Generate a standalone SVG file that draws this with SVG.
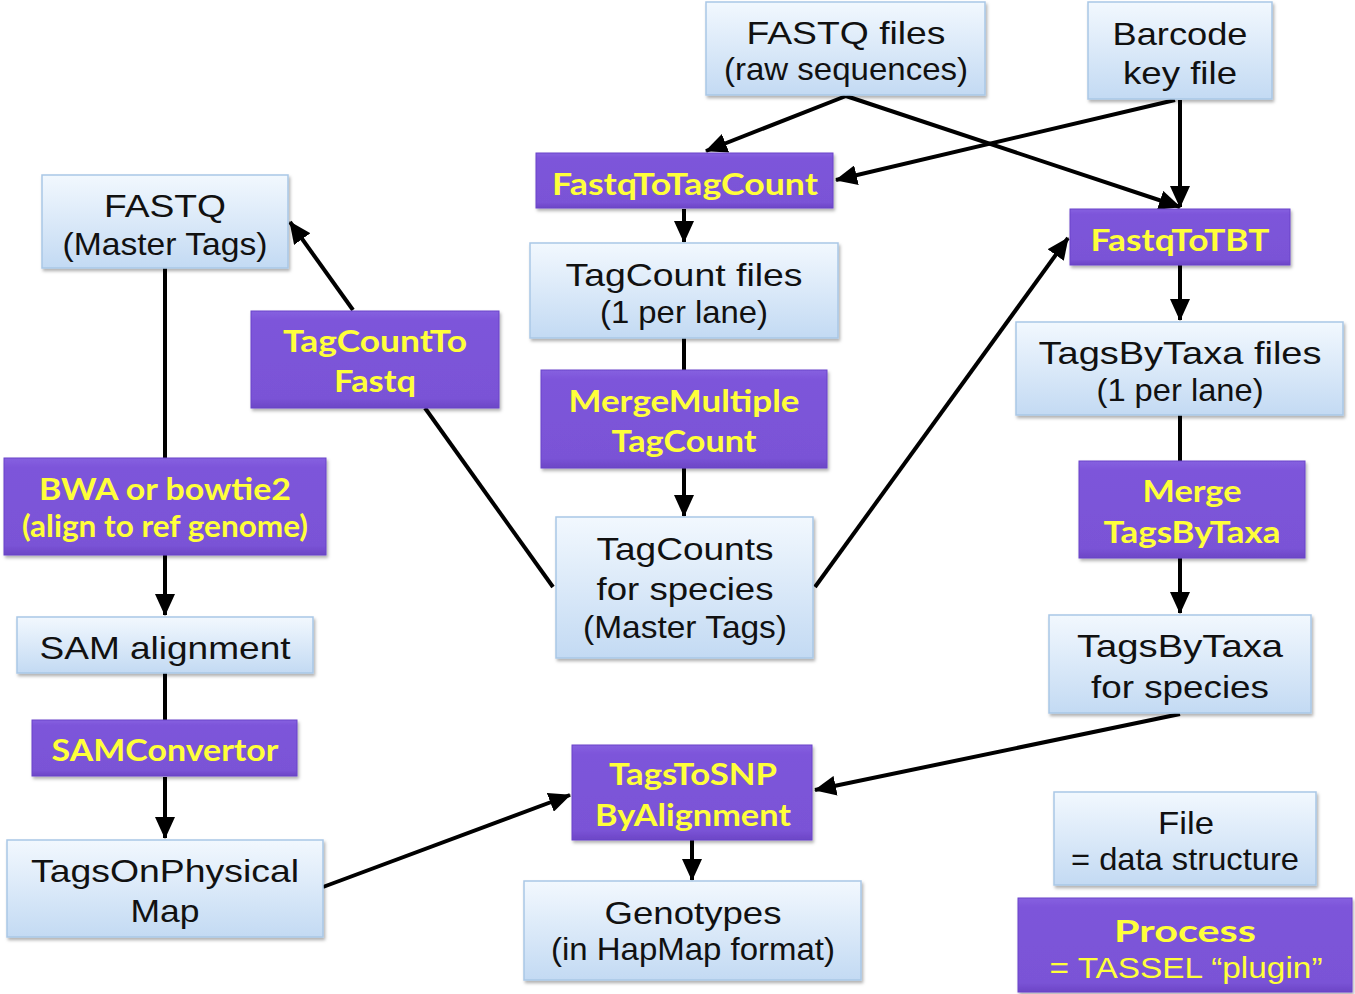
<svg xmlns="http://www.w3.org/2000/svg" width="1355" height="994" viewBox="0 0 1355 994">
<style>
.file rect{fill:url(#gFile);stroke:#a9c7e6;stroke-width:1.5;filter:url(#sh)}
.proc rect{fill:url(#gProc);stroke:#6a44c9;stroke-width:1;filter:url(#sh)}
.file text{font-family:"Liberation Sans",Arial,sans-serif;font-size:32px;fill:#111;text-anchor:middle}
.proc text{font-family:Lato,"Open Sans",sans-serif;font-weight:700;font-size:31px;fill:#ffff3a;text-anchor:middle}
.proc text.reg{font-family:"Liberation Sans",Arial,sans-serif;font-weight:400;font-size:30px}
#edges path{stroke:#000;stroke-width:4;fill:none}
#edges path.a{marker-end:url(#ah)}
</style>
<defs>
<linearGradient id="gFile" x1="0" y1="0" x2="0" y2="1">
<stop offset="0" stop-color="#f2f8fe"/><stop offset="1" stop-color="#c3daf3"/>
</linearGradient>
<linearGradient id="gProc" x1="0" y1="0" x2="0" y2="1">
<stop offset="0" stop-color="#8660e0"/><stop offset="0.1" stop-color="#7d55da"/><stop offset="0.9" stop-color="#7a53d6"/><stop offset="1" stop-color="#6c46c6"/>
</linearGradient>
<filter id="sh" x="-10%" y="-10%" width="125%" height="135%">
<feDropShadow dx="1.5" dy="2.5" stdDeviation="1.5" flood-color="#000" flood-opacity="0.3"/>
</filter>
<marker id="ah" markerUnits="userSpaceOnUse" markerWidth="22" markerHeight="20" viewBox="0 0 22 20" refX="21" refY="10" orient="auto">
<path d="M0,0 L22,10 L0,20 z" fill="#000"/>
</marker>
</defs>
<rect width="1355" height="994" fill="#fff"/>

<g id="edges">
<path class="a" d="M846,96 L706,151"/>
<path class="a" d="M846,96 L1180,207"/>
<path class="a" d="M1175,100 L836,180"/>
<path class="a" d="M1180,100 L1180,207"/>
<path class="a" d="M684,209 L684,242"/>
<path d="M684,338 L684,370"/>
<path class="a" d="M684,468 L684,516"/>
<path d="M553,587 L425,408"/>
<path class="a" d="M353,310 L290,222"/>
<path class="a" d="M815,587 L1068,238"/>
<path class="a" d="M1180,265 L1180,320"/>
<path d="M1180,415 L1180,461"/>
<path class="a" d="M1180,558 L1180,613"/>
<path class="a" d="M1180,714 L815,790"/>
<path d="M165,268 L165,458"/>
<path class="a" d="M165,555 L165,615"/>
<path d="M165,673 L165,720"/>
<path class="a" d="M165,777 L165,838"/>
<path class="a" d="M323,887 L570,795"/>
<path class="a" d="M692,840 L692,880"/>
</g>

<g id="fastq_files" class="file"><rect x="706" y="2" width="279" height="93"/>
<text x="846" y="44" textLength="199" lengthAdjust="spacingAndGlyphs">FASTQ files</text>
<text x="846" y="80" textLength="244" lengthAdjust="spacingAndGlyphs">(raw sequences)</text></g>

<g id="barcode" class="file"><rect x="1088" y="2" width="184" height="97"/>
<text x="1180" y="45" textLength="135" lengthAdjust="spacingAndGlyphs">Barcode</text>
<text x="1180" y="84" textLength="114" lengthAdjust="spacingAndGlyphs">key file</text></g>

<g id="fastq_master" class="file"><rect x="42" y="175" width="246" height="93"/>
<text x="165" y="217" textLength="122" lengthAdjust="spacingAndGlyphs">FASTQ</text>
<text x="165" y="255" textLength="205" lengthAdjust="spacingAndGlyphs">(Master Tags)</text></g>

<g id="tagcount_files" class="file"><rect x="530" y="243" width="308" height="95"/>
<text x="684" y="286" textLength="237" lengthAdjust="spacingAndGlyphs">TagCount files</text>
<text x="684" y="323" textLength="168" lengthAdjust="spacingAndGlyphs">(1 per lane)</text></g>

<g id="tbt_files" class="file"><rect x="1016" y="322" width="327" height="93"/>
<text x="1180" y="364" textLength="283" lengthAdjust="spacingAndGlyphs">TagsByTaxa files</text>
<text x="1180" y="401" textLength="167" lengthAdjust="spacingAndGlyphs">(1 per lane)</text></g>

<g id="tagcounts_species" class="file"><rect x="556" y="517" width="257" height="141"/>
<text x="685" y="560" textLength="177" lengthAdjust="spacingAndGlyphs">TagCounts</text>
<text x="685" y="600" textLength="177" lengthAdjust="spacingAndGlyphs">for species</text>
<text x="685" y="638" textLength="204" lengthAdjust="spacingAndGlyphs">(Master Tags)</text></g>

<g id="sam" class="file"><rect x="17" y="617" width="296" height="56"/>
<text x="165" y="659" textLength="251" lengthAdjust="spacingAndGlyphs">SAM alignment</text></g>

<g id="tbt_species" class="file"><rect x="1049" y="615" width="262" height="98"/>
<text x="1180" y="657" textLength="206" lengthAdjust="spacingAndGlyphs">TagsByTaxa</text>
<text x="1180" y="698" textLength="178" lengthAdjust="spacingAndGlyphs">for species</text></g>

<g id="topm" class="file"><rect x="7" y="840" width="316" height="97"/>
<text x="165" y="882" textLength="268" lengthAdjust="spacingAndGlyphs">TagsOnPhysical</text>
<text x="165" y="922" textLength="69" lengthAdjust="spacingAndGlyphs">Map</text></g>

<g id="genotypes" class="file"><rect x="524" y="881" width="337" height="99"/>
<text x="693" y="924" textLength="177" lengthAdjust="spacingAndGlyphs">Genotypes</text>
<text x="693" y="960" textLength="284" lengthAdjust="spacingAndGlyphs">(in HapMap format)</text></g>

<g id="legend_file" class="file"><rect x="1054" y="792" width="262" height="93"/>
<text x="1186" y="834" textLength="56" lengthAdjust="spacingAndGlyphs">File</text>
<text x="1185" y="870" textLength="228" lengthAdjust="spacingAndGlyphs">= data structure</text></g>

<g id="p_fastqtotagcount" class="proc"><rect x="536" y="153" width="297" height="55"/>
<text x="685" y="195" textLength="266" lengthAdjust="spacingAndGlyphs">FastqToTagCount</text></g>

<g id="p_fastqtotbt" class="proc"><rect x="1070" y="209" width="220" height="56"/>
<text x="1180" y="251" textLength="179" lengthAdjust="spacingAndGlyphs">FastqToTBT</text></g>

<g id="p_tagcounttofastq" class="proc"><rect x="251" y="311" width="248" height="97"/>
<text x="375" y="352" textLength="184" lengthAdjust="spacingAndGlyphs">TagCountTo</text>
<text x="375" y="392" textLength="82" lengthAdjust="spacingAndGlyphs">Fastq</text></g>

<g id="p_merge_tagcount" class="proc"><rect x="541" y="370" width="286" height="98"/>
<text x="684" y="412" textLength="231" lengthAdjust="spacingAndGlyphs">MergeMultiple</text>
<text x="684" y="452" textLength="145" lengthAdjust="spacingAndGlyphs">TagCount</text></g>

<g id="p_bwa" class="proc"><rect x="4" y="458" width="322" height="97"/>
<text x="165" y="500" textLength="252" lengthAdjust="spacingAndGlyphs">BWA or bowtie2</text>
<text x="165" y="537" textLength="286" lengthAdjust="spacingAndGlyphs">(align to ref genome)</text></g>

<g id="p_merge_tbt" class="proc"><rect x="1079" y="461" width="226" height="97"/>
<text x="1192" y="502" textLength="99" lengthAdjust="spacingAndGlyphs">Merge</text>
<text x="1192" y="543" textLength="177" lengthAdjust="spacingAndGlyphs">TagsByTaxa</text></g>

<g id="p_samconvertor" class="proc"><rect x="32" y="720" width="265" height="56"/>
<text x="165" y="761" textLength="227" lengthAdjust="spacingAndGlyphs">SAMConvertor</text></g>

<g id="p_tagstosnp" class="proc"><rect x="572" y="745" width="240" height="95"/>
<text x="693" y="785" textLength="168" lengthAdjust="spacingAndGlyphs">TagsToSNP</text>
<text x="693" y="826" textLength="196" lengthAdjust="spacingAndGlyphs">ByAlignment</text></g>

<g id="legend_process" class="proc"><rect x="1018" y="898" width="334" height="94"/>
<text x="1185" y="942" textLength="142" lengthAdjust="spacingAndGlyphs">Process</text>
<text class="reg" x="1186" y="978" textLength="273" lengthAdjust="spacingAndGlyphs">= TASSEL “plugin”</text></g>
</svg>
